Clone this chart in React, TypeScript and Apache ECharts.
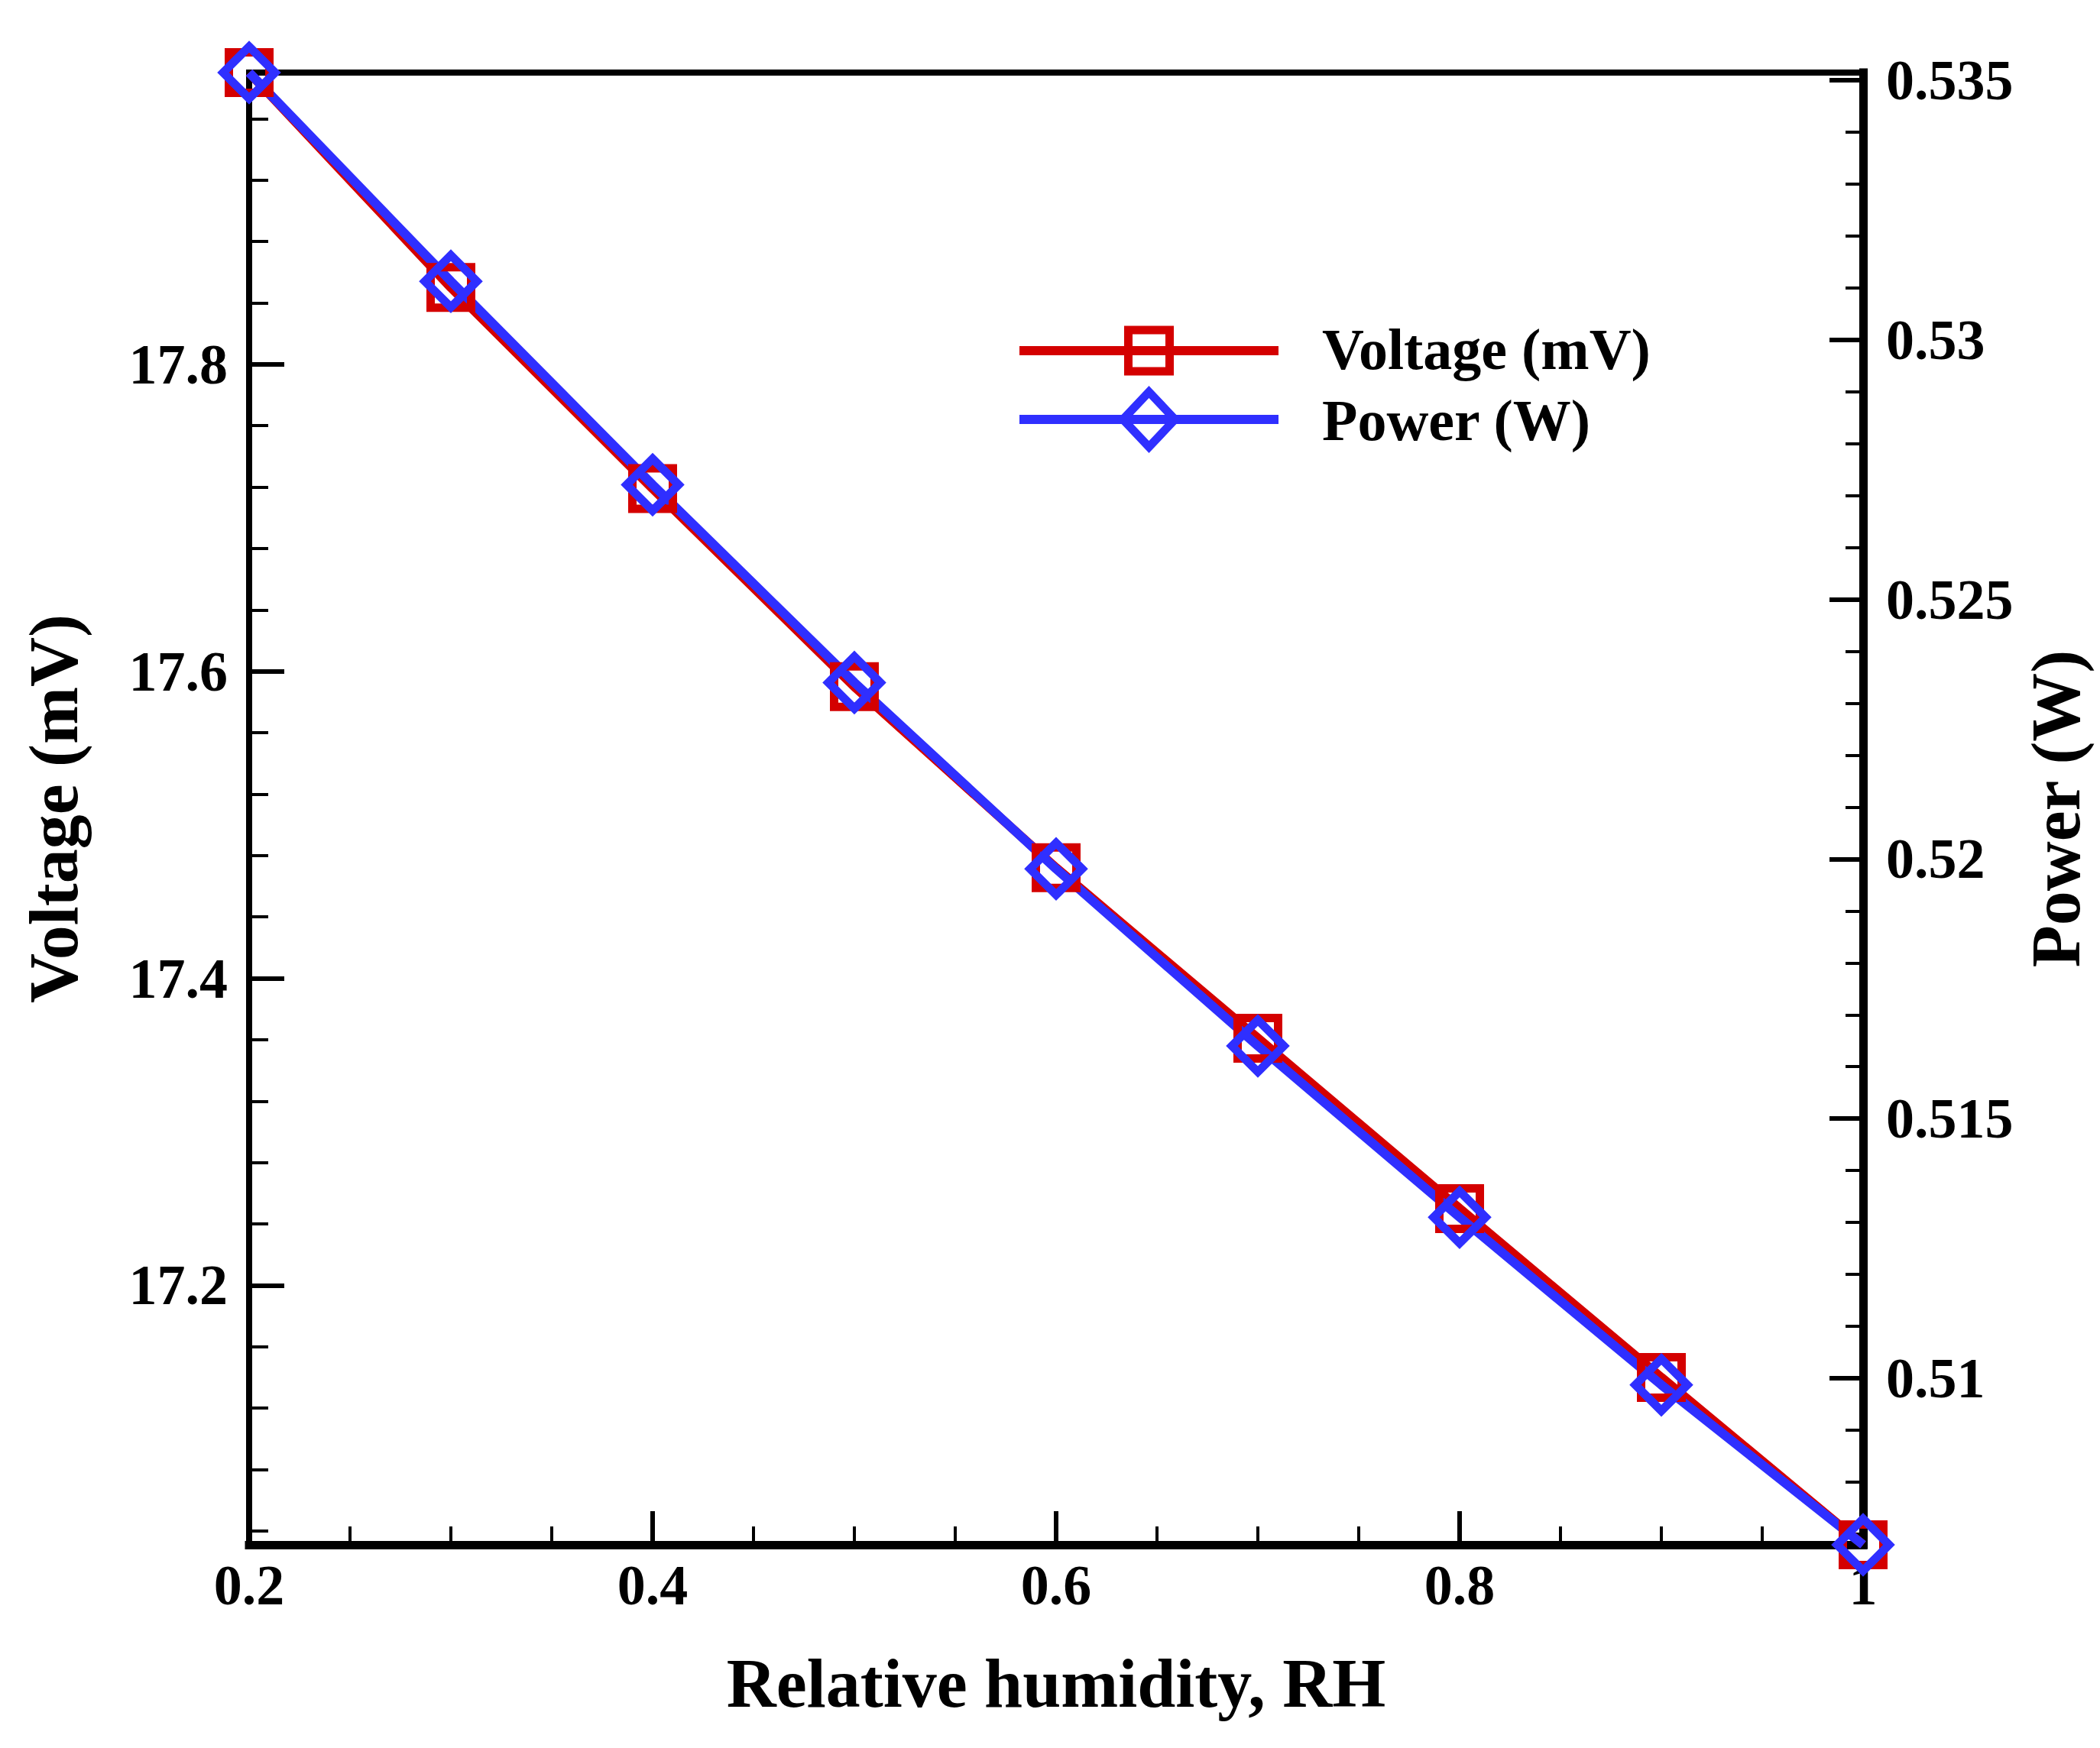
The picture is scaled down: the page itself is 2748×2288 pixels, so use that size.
import React, { useEffect, useRef } from 'react';
import * as echarts from 'echarts';

// ---- data ----
const rh = [0.2, 0.3, 0.4, 0.5, 0.6, 0.7, 0.8, 0.9, 1.0];
const voltage = [17.99, 17.85, 17.719, 17.59, 17.472, 17.361, 17.25, 17.14, 17.031];
const power = [0.53515, 0.53113, 0.52721, 0.5234, 0.51981, 0.5164, 0.5131, 0.50987, 0.50679];

const xTickLabels = ['0.2', '0.4', '0.6', '0.8', '1'];
const voltageTickLabels = ['17.2', '17.4', '17.6', '17.8'];
const powerTickLabels = ['0.51', '0.515', '0.52', '0.525', '0.53', '0.535'];
const seriesNames = ['Voltage (mV)', 'Power (W)'];
const xTitle = 'Relative humidity, RH';

const FONT = "'Liberation Serif', 'Times New Roman', serif";
const RED = '#d40000';
const BLUE = '#2f2fff';
const BLACK = '#000';

const pick = (labels: string[]) => (v: number) => {
  const hit = labels.find((l) => Math.abs(parseFloat(l) - v) < 1e-7);
  return hit ?? '';
};

const labelStyle = (margin: number, labels: string[]) => ({
  show: true,
  margin,
  fontFamily: FONT,
  fontWeight: 'bold' as const,
  fontSize: 74,
  lineHeight: 74,
  color: BLACK,
  showMinLabel: true,
  showMaxLabel: true,
  hideOverlap: false,
  formatter: pick(labels),
});

const nameStyle = {
  fontFamily: FONT,
  fontWeight: 'bold' as const,
  fontSize: 90,
  lineHeight: 90,
  color: BLACK,
};

export default function App() {
  const ref = useRef<HTMLDivElement>(null);

  useEffect(() => {
    if (!ref.current) return;
    const chart = echarts.init(ref.current, null, { renderer: 'svg' });

    const gridLeft = 326;
    const gridRight = 310;
    const gridTop = 95;
    const gridBottom = 266;

    const legendX = 1334;
    const legendW = 339;
    const legendY = [459, 549];
    const legendMid = legendX + legendW / 2;

    const option: any = {
      animation: false,
      backgroundColor: '#fff',
      grid: { left: gridLeft, right: gridRight, top: gridTop, bottom: gridBottom, containLabel: false },
      xAxis: [
        {
          type: 'value',
          position: 'bottom',
          min: 0.2,
          max: 1,
          interval: 0.2,
          name: xTitle,
          nameLocation: 'middle',
          nameGap: 136,
          nameTextStyle: nameStyle,
          splitLine: { show: false },
          axisLine: { show: true, lineStyle: { color: BLACK, width: 11, cap: 'square' } },
          axisTick: { show: true, inside: true, length: 44, lineStyle: { color: BLACK, width: 6 } },
          minorTick: { show: true, splitNumber: 4, length: 24, lineStyle: { color: BLACK, width: 4 } },
          axisLabel: labelStyle(16, xTickLabels),
        },
        {
          type: 'value',
          position: 'top',
          min: 0.2,
          max: 1,
          interval: 0.2,
          splitLine: { show: false },
          axisLine: { show: true, lineStyle: { color: BLACK, width: 8, cap: 'square' } },
          axisTick: { show: false },
          minorTick: { show: false },
          axisLabel: { show: false },
        },
      ],
      yAxis: [
        {
          type: 'value',
          position: 'left',
          min: 'dataMin',
          max: 'dataMax',
          splitNumber: 5,
          name: seriesNames[0],
          nameLocation: 'middle',
          nameGap: 211,
          nameRotate: 90,
          nameTextStyle: nameStyle,
          splitLine: { show: false },
          axisLine: { show: true, lineStyle: { color: BLACK, width: 8, cap: 'square' } },
          axisTick: { show: true, inside: true, length: 46, lineStyle: { color: BLACK, width: 6 } },
          minorTick: { show: true, splitNumber: 5, length: 25, lineStyle: { color: BLACK, width: 4 } },
          axisLabel: labelStyle(28, voltageTickLabels),
        },
        {
          type: 'value',
          position: 'right',
          min: 'dataMin',
          max: 'dataMax',
          splitNumber: 5,
          name: seriesNames[1],
          nameLocation: 'middle',
          nameGap: 185,
          nameRotate: 90,
          nameTextStyle: nameStyle,
          splitLine: { show: false },
          axisLine: { show: true, lineStyle: { color: BLACK, width: 11, cap: 'square' } },
          axisTick: { show: true, inside: true, length: 44, lineStyle: { color: BLACK, width: 6 } },
          minorTick: { show: true, splitNumber: 5, length: 23, lineStyle: { color: BLACK, width: 4 } },
          axisLabel: labelStyle(30, powerTickLabels),
        },
      ],
      series: [
        {
          name: seriesNames[0],
          type: 'line',
          xAxisIndex: 0,
          yAxisIndex: 0,
          clip: false,
          data: rh.map((x, i) => [x, voltage[i]]),
          symbol: 'rect',
          symbolSize: 53,
          showAllSymbol: true,
          lineStyle: { color: RED, width: 12 },
          itemStyle: { color: 'rgba(0,0,0,0)', borderColor: RED, borderWidth: 11 },
          emphasis: { disabled: true },
        },
        {
          name: seriesNames[1],
          type: 'line',
          xAxisIndex: 0,
          yAxisIndex: 1,
          clip: false,
          data: rh.map((x, i) => [x, power[i]]),
          symbol: 'diamond',
          symbolSize: 68,
          showAllSymbol: true,
          lineStyle: { color: BLUE, width: 12 },
          itemStyle: { color: 'rgba(0,0,0,0)', borderColor: BLUE, borderWidth: 11 },
          emphasis: { disabled: true },
        },
      ],
      graphic: [
        {
          type: 'line',
          shape: { x1: legendX, y1: legendY[0], x2: legendX + legendW, y2: legendY[0] },
          style: { stroke: RED, lineWidth: 12 },
        },
        {
          type: 'rect',
          shape: { x: legendMid - 27, y: legendY[0] - 27, width: 54, height: 54 },
          style: { stroke: RED, lineWidth: 11, fill: 'none' },
        },
        {
          type: 'line',
          shape: { x1: legendX, y1: legendY[1], x2: legendX + legendW, y2: legendY[1] },
          style: { stroke: BLUE, lineWidth: 12 },
        },
        {
          type: 'polygon',
          shape: {
            points: [
              [legendMid, legendY[1] - 36],
              [legendMid + 34, legendY[1]],
              [legendMid, legendY[1] + 36],
              [legendMid - 34, legendY[1]],
            ],
          },
          style: { stroke: BLUE, lineWidth: 11, fill: 'none' },
        },
        {
          type: 'text',
          x: 1730,
          y: legendY[0] - 2,
          style: {
            text: seriesNames[0],
            fontFamily: FONT,
            fontWeight: 'bold',
            fontSize: 76,
            fill: BLACK,
            verticalAlign: 'middle',
            align: 'left',
          },
        },
        {
          type: 'text',
          x: 1730,
          y: legendY[1] + 1,
          style: {
            text: seriesNames[1],
            fontFamily: FONT,
            fontWeight: 'bold',
            fontSize: 76,
            fill: BLACK,
            verticalAlign: 'middle',
            align: 'left',
          },
        },
      ],
    };

    chart.setOption(option);
    return () => chart.dispose();
  }, []);

  return (
    <div
      ref={ref}
      style={{ position: 'absolute', left: 0, top: 0, width: 2748, height: 2288, background: '#fff' }}
    />
  );
}
